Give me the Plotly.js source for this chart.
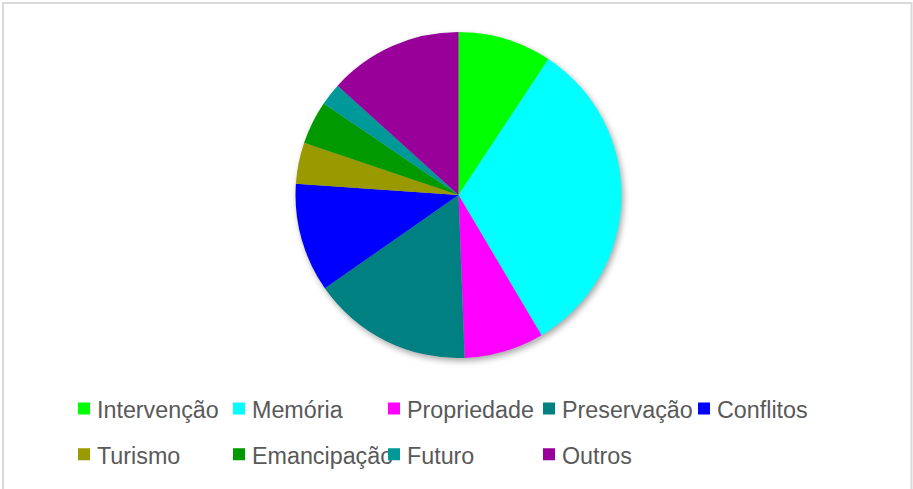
<!DOCTYPE html>
<html>
<head>
<meta charset="utf-8">
<script src="https://cdn.plot.ly/plotly-3.0.1.min.js"></script>
<style>
html,body{margin:0;padding:0;background:#fff;}
#chart{width:913px;height:489px;}
.pielayer .trace{filter:drop-shadow(2px 3px 3px rgba(0,0,0,0.35));}
.legend .legendtext{transform:translate(-7px,-3px);}
</style>
</head>
<body>
<div id="chart"></div>
<script>
var categories = ["Intervenção","Memória","Propriedade","Preservação","Conflitos","Turismo","Emancipação","Futuro","Outros"];
var values = [9.3, 32.2, 7.9, 15.9, 10.8, 4.1, 4.3, 2.2, 13.3];
var colors = ["#00FF00","#00FFFF","#FF00FF","#008080","#0000FF","#999900","#009900","#009999","#990099"];

var W = 913, H = 489;
function px(x){return x/W;}
function py(y){return 1 - y/H;}

var trace = {
  type: "pie",
  labels: categories.map(function(c){return '<span style="font-size:23.3px">'+c+'</span>';}),
  values: values,
  marker: {colors: colors, line: {width: 0}},
  sort: false,
  direction: "clockwise",
  rotation: 0,
  textinfo: "none",
  hoverinfo: "label+percent",
  domain: {x: [px(295.5), px(621.5)], y: [py(358), py(32)]}
};

var layout = {
  width: W, height: H,
  margin: {l:0, r:0, t:0, b:0},
  paper_bgcolor: "#ffffff",
  plot_bgcolor: "#ffffff",
  font: {family: "Liberation Sans, Arial, sans-serif", color: "#595959"},
  showlegend: true,
  legend: {
    orientation: "h",
    x: px(64), xanchor: "left",
    y: py(380.5), yanchor: "top",
    font: {size: 33, color: "#595959"},
    entrywidth: 110,
    entrywidthmode: "pixels",
    itemwidth: 30,
    bgcolor: "rgba(0,0,0,0)"
  },
  shapes: [{
    type: "rect", xref: "paper", yref: "paper",
    x0: px(3), x1: px(911.5), y0: py(500), y1: py(3),
    line: {color: "#d9d9d9", width: 2}, fillcolor: "rgba(0,0,0,0)"
  }]
};

Plotly.newPlot("chart", [trace], layout, {displayModeBar: false});
</script>
</body>
</html>
